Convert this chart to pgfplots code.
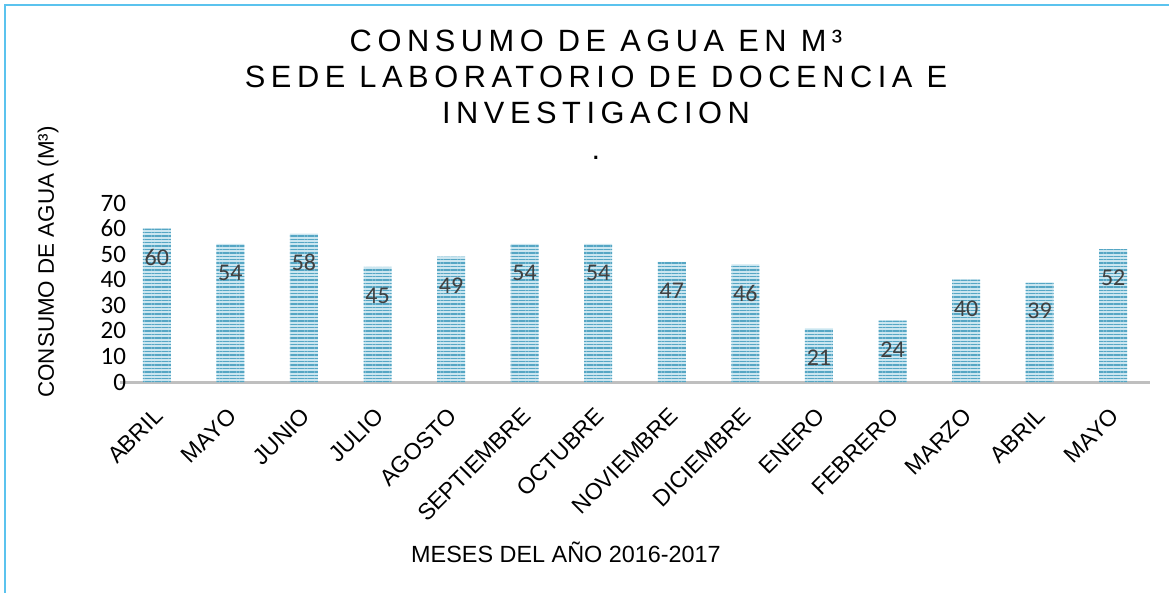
\documentclass[border=0pt]{standalone}
\usepackage{fontspec}
\setmainfont{Liberation Sans}
\newfontfamily\carlito{Carlito}
\newfontfamily\titlefont[LetterSpace=18]{Liberation Sans}
\usepackage{pgfplots}
\pgfplotsset{compat=1.18}
\usetikzlibrary{patterns.meta}
\definecolor{barlight}{HTML}{CBE6F0}
\definecolor{bardark}{HTML}{55A6C4}
\definecolor{framecol}{HTML}{5BC3EE}
\definecolor{lblcol}{HTML}{404040}
\begin{document}
\begin{tikzpicture}
\path[use as bounding box] (0,0) rectangle (584.5pt,-296.5pt);
\draw[framecol, line width=1pt] (2.5pt,-296.5pt) -- (2.5pt,-2.5pt) -- (584.5pt,-2.5pt);
\begin{axis}[
  at={(60pt,-191pt)}, anchor=south west,
  scale only axis, width=515pt, height=89.5pt,
  ymin=0, ymax=70, xmin=-0.5, xmax=13.5,
  ytick={0,10,...,70},
  xtick={0,...,13},
  xticklabels={ABRIL,MAYO,JUNIO,JULIO,AGOSTO,SEPTIEMBRE,OCTUBRE,NOVIEMBRE,DICIEMBRE,ENERO,FEBRERO,MARZO,ABRIL,MAYO},
  axis x line*=bottom, axis y line*=left,
  y axis line style={draw=none},
  x axis line style={-, draw=black!25, line width=1.5pt},
  major tick length=0pt,
  /pgf/number format/assume math mode=true,
  yticklabel style={font=\carlito\fontsize{12.5}{14}\selectfont, anchor=east, xshift=6.5pt},
  xticklabel style={font=\fontsize{11.5}{14}\selectfont, yshift=-15pt, xshift=1pt, rotate=45, anchor=east, inner sep=0pt},
  ybar, bar width=14pt,
  nodes near coords,
  nodes near coords style={font=\carlito\fontsize{12}{14}\selectfont, text=lblcol, anchor=center, yshift=-14.5pt},
  clip=false,
]
\addplot[draw=none, fill=barlight, postaction={pattern={Lines[angle=0,distance=1.7pt,line width=0.7pt]}, pattern color=bardark}]
coordinates {(0,60) (1,54) (2,58) (3,45) (4,49) (5,54) (6,54) (7,47) (8,46) (9,21) (10,24) (11,40) (12,39) (13,52)};
\end{axis}
\node[rotate=90, font=\fontsize{11.2}{13}\selectfont] at (24pt,-131pt) {CONSUMO DE AGUA (M³)};
\node[anchor=base, font=\fontsize{11.7}{13}\selectfont] at (283pt,-281pt) {MESES DEL AÑO 2016-2017};
\node[anchor=base, font=\titlefont\fontsize{15.4}{18}\selectfont] at (298pt,-26pt) {CONSUMO DE AGUA EN M³};
\node[anchor=base, font=\titlefont\fontsize{15.4}{18}\selectfont] at (298pt,-44pt) {SEDE LABORATORIO DE DOCENCIA E};
\node[anchor=base, font=\titlefont\fontsize{15.4}{18}\selectfont] at (298pt,-62pt) {INVESTIGACION};
\node[anchor=base, font=\titlefont\fontsize{15.4}{18}\selectfont] at (298pt,-80pt) {.};
\end{tikzpicture}
\end{document}
